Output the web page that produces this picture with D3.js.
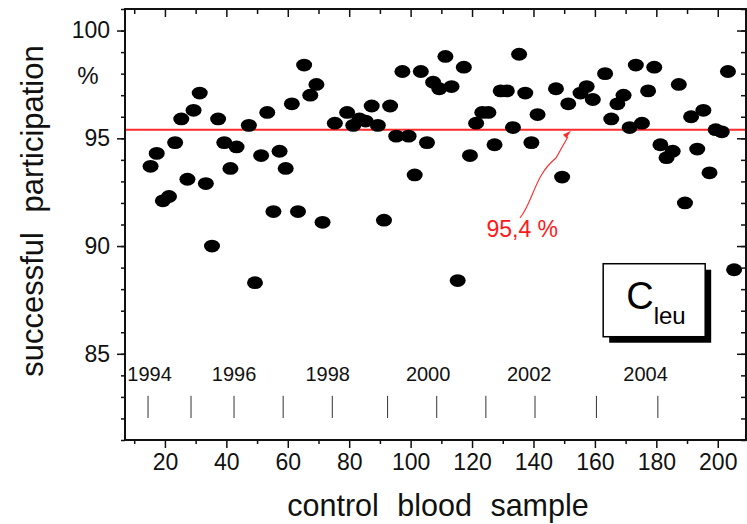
<!DOCTYPE html>
<html>
<head>
<meta charset="utf-8">
<script src="https://cdn.jsdelivr.net/npm/d3@7"></script>
<style>
	body { margin: 0; background: #fff; }
	text { font-family: Arial, "Liberation Sans", sans-serif; }
</style>
</head>
<body>
<div id="chartId"></div>
<script>
// control blood samples (odd numbers, a few are missing)
var sampleNumbers = [15, 17, 19, 21, 23, 25, 27, 29, 31, 33, 35, 37, 39, 41, 43, 47, 49, 51, 53, 55,
	57, 59, 61, 63, 65, 67, 69, 71, 75, 79, 81, 83, 85, 87, 89, 91, 93, 95, 97, 99,
	101, 103, 105, 107, 109, 111, 113, 115, 117, 119, 121, 123, 125, 127, 129, 131, 133, 135, 137, 139,
	141, 147, 149, 151, 155, 157, 159, 163, 165, 167, 169, 171, 173, 175, 177, 179, 181, 183, 185, 187,
	189, 191, 193, 195, 197, 199, 201, 203, 205];
var participation = [93.7, 94.3, 92.1, 92.3, 94.8, 95.9, 93.1, 96.3, 97.1, 92.9, 90.0, 95.9, 94.8, 93.6, 94.6, 95.6, 88.3, 94.2, 96.2, 91.6,
	94.4, 93.6, 96.6, 91.6, 98.4, 97.0, 97.5, 91.1, 95.7, 96.2, 95.6, 95.9, 95.8, 96.5, 95.6, 91.2, 96.5, 95.1, 98.1, 95.1,
	93.3, 98.1, 94.8, 97.6, 97.3, 98.8, 97.4, 88.4, 98.3, 94.2, 95.7, 96.2, 96.2, 94.7, 97.2, 97.2, 95.5, 98.9, 97.1, 94.8,
	96.1, 97.3, 93.2, 96.6, 97.1, 97.4, 96.8, 98.0, 95.9, 96.6, 97.0, 95.5, 98.4, 95.7, 97.2, 98.3, 94.7, 94.1, 94.4, 97.5,
	92.0, 96.0, 94.5, 96.3, 93.4, 95.4, 95.3, 98.1, 88.9];
var meanValue = 95.4;
var meanLabel = "95,4 %";

var xMajorTicks = [20, 40, 60, 80, 100, 120, 140, 160, 180, 200];
var xMinorTicks = [10, 30, 50, 70, 90, 110, 130, 150, 170, 190];
var yMajorTicks = [85, 90, 95, 100];
var yMinorTicks = d3.range(81, 102, 1);

var yearLabels = ["1994", "1996", "1998", "2000", "2002", "2004"];
var yearLabelSamples = [15, 42.5, 73, 105.7, 138.6, 176.5];
var yearSeparators = [14.5, 28.5, 42.5, 58.5, 74.5, 92.5, 108.5, 124.5, 140.5, 160.5, 180.5];

function ScatterPanel(parentId){
	var vis = this;
	vis.parentId = parentId;
	vis.init();
}

ScatterPanel.prototype.init = function(){
	var vis = this;
	vis.width = 747;
	vis.height = 524;
	vis.left = 125;
	vis.right = 746;
	vis.top = 9;
	vis.bottom = 440;

	vis.svg = d3.select(vis.parentId).append("svg")
		.attr("width", vis.width)
		.attr("height", vis.height);

	vis.x = d3.scaleLinear().domain([7, 209.2]).range([vis.left, vis.right]);
	vis.y = d3.scaleLinear().domain([81, 101]).range([vis.bottom, vis.top]);

	vis.updateVis();
}

ScatterPanel.prototype.tickAxis = function(axis, tx, ty){
	var vis = this;
	var g = vis.svg.append("g")
		.attr("transform", "translate(" + tx + "," + ty + ")")
		.call(axis);
	g.select(".domain").remove();
	g.selectAll("line").attr("stroke", "#111").attr("stroke-width", 1.5);
	g.selectAll("text")
		.attr("font-family", "Arial, 'Liberation Sans', sans-serif")
		.attr("font-size", 23)
		.attr("fill", "#111");
	return g;
}

ScatterPanel.prototype.updateVis = function(){
	var vis = this;
	var x = vis.x, y = vis.y;

	// year markers along the bottom of the plot
	vis.svg.selectAll(".yearSep").data(yearSeparators).enter()
		.append("line")
		.attr("class", "yearSep")
		.attr("x1", function(d){ return x(d); })
		.attr("x2", function(d){ return x(d); })
		.attr("y1", y(83.05))
		.attr("y2", y(82.02))
		.attr("stroke", "#333")
		.attr("stroke-width", 1);
	vis.svg.selectAll(".yearLabel").data(yearLabels).enter()
		.append("text")
		.attr("class", "yearLabel")
		.attr("x", function(d, i){ return x(yearLabelSamples[i]); })
		.attr("y", y(83.72))
		.attr("text-anchor", "middle")
		.attr("font-size", 20)
		.attr("fill", "#111")
		.text(function(d){ return d; });

	// mean line
	vis.svg.append("line")
		.attr("x1", vis.left)
		.attr("x2", vis.right)
		.attr("y1", y(meanValue))
		.attr("y2", y(meanValue))
		.attr("stroke", "#ff2a2a")
		.attr("stroke-width", 1.9);

	// points
	vis.svg.selectAll("ellipse").data(participation).enter()
		.append("ellipse")
		.attr("cx", function(d, i){ return x(sampleNumbers[i]) + 1; })
		.attr("cy", function(d){ return y(d); })
		.attr("rx", 8)
		.attr("ry", 6.4)
		.attr("fill", "#000");

	// mean annotation with curved arrow
	var tipX = x(152.2), tipY = y(meanValue) + 1;
	var startX = x(135.6), startY = y(91.3);
	var arrowPath = d3.path();
	arrowPath.moveTo(startX, startY);
	arrowPath.bezierCurveTo(startX + 14, startY - 18, startX + 14, startY - 42, startX + 36, startY - 60);
	arrowPath.lineTo(tipX - 3, tipY + 6);
	vis.svg.append("path")
		.attr("d", arrowPath.toString())
		.attr("fill", "none")
		.attr("stroke", "#ff2a2a")
		.attr("stroke-width", 1.1);
	vis.svg.append("path")
		.attr("d", "M" + tipX + "," + tipY + " l-8,4 l3.5,3.5 z")
		.attr("fill", "#ff2a2a");
	vis.svg.append("text")
		.attr("x", x(124.7))
		.attr("y", y(90.4))
		.attr("font-size", 23)
		.attr("fill", "#ff1a1a")
		.text(meanLabel);

	// legend box with shadow
	var boxX = x(162.7), boxY = y(89.18), boxW = 102, boxH = 73;
	vis.svg.append("rect")
		.attr("x", boxX + 6).attr("y", boxY + 6)
		.attr("width", boxW).attr("height", boxH)
		.attr("fill", "#000");
	vis.svg.append("rect")
		.attr("x", boxX).attr("y", boxY)
		.attr("width", boxW).attr("height", boxH)
		.attr("fill", "#fff")
		.attr("stroke", "#000")
		.attr("stroke-width", 1.5);
	var legendText = vis.svg.append("text")
		.attr("x", boxX + 23)
		.attr("y", boxY + 45.5)
		.attr("fill", "#000");
	legendText.append("tspan").attr("font-size", 38).text("C");
	legendText.append("tspan").attr("font-size", 24).attr("dy", 15).text("leu");

	// axes: ticks on all four sides
	vis.tickAxis(d3.axisLeft(y).tickValues(yMajorTicks).tickSize(8).tickPadding(7), vis.left, 0);
	vis.tickAxis(d3.axisLeft(y).tickValues(yMinorTicks).tickSize(4).tickFormat(""), vis.left, 0);
	vis.tickAxis(d3.axisBottom(x).tickValues(xMajorTicks).tickSize(8).tickPadding(6), 0, vis.bottom);
	vis.tickAxis(d3.axisBottom(x).tickValues(xMinorTicks).tickSize(4).tickFormat(""), 0, vis.bottom);
	vis.tickAxis(d3.axisBottom(x).tickValues(xMajorTicks).tickSize(8).tickFormat(""), 0, vis.top);
	vis.tickAxis(d3.axisBottom(x).tickValues(xMinorTicks).tickSize(5).tickFormat(""), 0, vis.top);
	vis.tickAxis(d3.axisLeft(y).tickValues(yMajorTicks).tickSize(9).tickFormat(""), vis.right, 0);
	vis.tickAxis(d3.axisLeft(y).tickValues(yMinorTicks).tickSize(5).tickFormat(""), vis.right, 0);

	vis.svg.append("path")
		.attr("d", "M" + vis.left + "," + vis.top + "H" + vis.right + "V" + vis.bottom + "H" + vis.left + "Z")
		.attr("fill", "none")
		.attr("stroke", "#111")
		.attr("stroke-width", 2);

	// "%" unit next to the y axis
	vis.svg.append("text")
		.attr("x", 88)
		.attr("y", 84)
		.attr("text-anchor", "middle")
		.attr("font-size", 24)
		.attr("fill", "#111")
		.text("%");

	// axis titles
	vis.svg.append("text")
		.attr("x", 438)
		.attr("y", 516)
		.attr("text-anchor", "middle")
		.attr("font-size", 30.5)
		.attr("word-spacing", 10)
		.attr("fill", "#111")
		.text("control blood sample");
	vis.svg.append("text")
		.attr("transform", "translate(43,211) rotate(-90)")
		.attr("text-anchor", "middle")
		.attr("font-size", 31)
		.attr("word-spacing", 11)
		.attr("fill", "#111")
		.text("successful participation");
}

var chart = new ScatterPanel("#chartId");
</script>
</body>
</html>
